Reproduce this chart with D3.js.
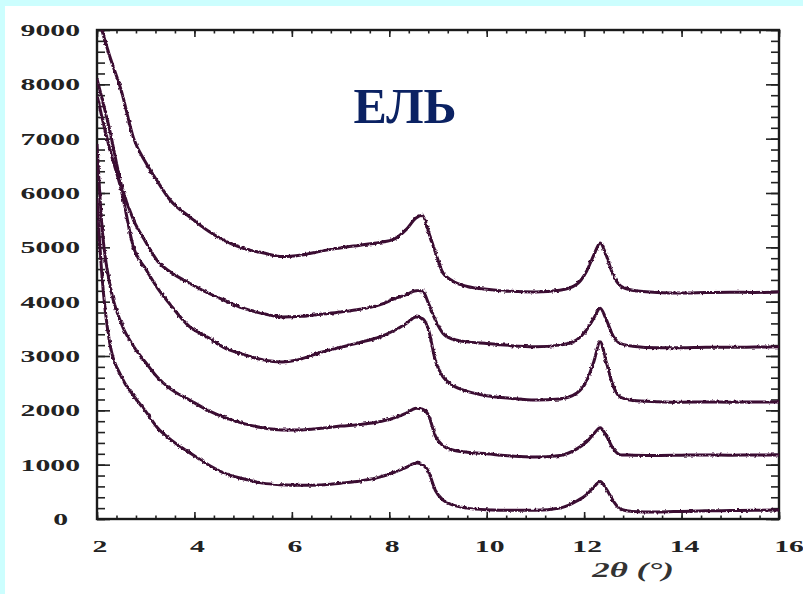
<!DOCTYPE html>
<html>
<head>
<meta charset="utf-8">
<script src="https://cdn.jsdelivr.net/npm/d3@7"></script>
<style>
  body { margin: 0; background: #fff; }
  svg { display: block; }
</style>
</head>
<body>
<div id="chart"></div>
<script>
// 2θ positions where the curves were read
var twoTheta = [2.0, 2.1, 2.25, 2.5, 2.75, 3.0, 3.25, 3.5, 3.9, 4.3, 4.6, 5.0, 5.4, 5.8, 6.2, 6.6, 7.0, 7.4, 7.8, 8.1,
  8.35, 8.55, 8.68, 8.8, 8.95, 9.1, 9.3, 9.6, 10.0, 10.5, 11.0, 11.5, 11.85, 12.05, 12.2, 12.33, 12.45, 12.6, 12.75,
  13.0, 13.5, 14.0, 14.5, 15.0, 15.5, 16.0];

// intensities, top curve first
var curveA = [9300, 9000, 8550, 7880, 7010, 6560, 6200, 5870, 5560, 5290, 5130, 4980, 4900, 4830, 4860, 4930, 4990, 5040, 5090, 5150,
  5330, 5540, 5590, 5300, 4900, 4530, 4380, 4280, 4230, 4190, 4180, 4210, 4320, 4560, 4860, 5080, 4860, 4480, 4290,
  4210, 4170, 4160, 4170, 4175, 4170, 4180];
var curveB = [8100, 7750, 7200, 6150, 5500, 5100, 4740, 4550, 4340, 4150, 4030, 3880, 3780, 3720, 3730, 3770, 3810, 3860, 3940, 4050,
  4130, 4200, 4200, 3980, 3650, 3420, 3310, 3260, 3230, 3190, 3170, 3200, 3300, 3480, 3700, 3880, 3680, 3360, 3230,
  3180, 3150, 3150, 3160, 3160, 3165, 3170];
var curveC = [7800, 7400, 6850, 6050, 5000, 4600, 4240, 3950, 3540, 3330, 3160, 3030, 2930, 2890, 2950, 3070, 3160, 3250, 3350, 3470,
  3600, 3720, 3690, 3500, 2900, 2620, 2460, 2350, 2270, 2220, 2190, 2210, 2320, 2540, 2900, 3260, 2900, 2440, 2240,
  2180, 2160, 2150, 2155, 2150, 2155, 2155];
var curveD = [6900, 5400, 4380, 3600, 3180, 2880, 2600, 2400, 2190, 1990, 1875, 1760, 1680, 1640, 1640, 1670, 1710, 1740, 1790, 1860,
  1950, 2040, 2020, 1920, 1520, 1350, 1270, 1230, 1200, 1160, 1140, 1170, 1290, 1420, 1570, 1680, 1540, 1290, 1180,
  1175, 1170, 1175, 1180, 1175, 1180, 1180];
var curveE = [5900, 4500, 3300, 2620, 2270, 1980, 1670, 1470, 1220, 990, 850, 740, 660, 630, 620, 625, 660, 700, 770, 860,
  950, 1030, 1000, 880, 520, 350, 260, 200, 170, 160, 160, 200, 330, 450, 590, 690, 560, 330, 180,
  140, 130, 140, 150, 155, 160, 166];

var xTicks = [2, 4, 6, 8, 10, 12, 14, 16];
var yTicks = [0, 1000, 2000, 3000, 4000, 5000, 6000, 7000, 8000, 9000];

var W = 803, H = 594;
var svg = d3.select("#chart").append("svg").attr("width", W).attr("height", H);

// slide background strips
svg.append("rect").attr("width", W).attr("height", H).attr("fill", "#fff");
svg.append("rect").attr("width", W).attr("height", 6).attr("fill", "#ccfefe");
svg.append("rect").attr("width", 5).attr("height", H).attr("fill", "#ccfefe");

var x = d3.scaleLinear().domain([2, 16]).range([97, 779]);
var y = d3.scaleLinear().domain([0, 9000]).range([519, 30]);

var defs = svg.append("defs");
defs.append("clipPath").attr("id", "plot")
  .append("rect")
  .attr("x", x(2)).attr("y", y(9000))
  .attr("width", x(16) - x(2)).attr("height", y(0) - y(9000));

// rough the traces up a bit like the scanned original
var rough = defs.append("filter").attr("id", "rough")
  .attr("x", "-5%").attr("y", "-5%").attr("width", "110%").attr("height", "110%");
rough.append("feTurbulence").attr("type", "fractalNoise")
  .attr("baseFrequency", 0.35).attr("numOctaves", 2).attr("seed", 3).attr("result", "noise");
rough.append("feDisplacementMap").attr("in", "SourceGraphic").attr("in2", "noise")
  .attr("scale", 3).attr("xChannelSelector", "R").attr("yChannelSelector", "G");

var minorX = d3.range(2, 16.001, 0.4);
var minorY = d3.range(0, 9000.1, 200);

function tickAxis(axis, pos, values, size) {
  svg.append("g")
    .attr("transform", pos)
    .call(axis.tickValues(values).tickSize(size).tickFormat(""))
    .call(g => g.select(".domain").remove())
    .call(g => g.selectAll(".tick line").attr("stroke", "#222").attr("stroke-width", 1.6));
}

tickAxis(d3.axisBottom(x), "translate(0," + y(0) + ")", minorX, -3.5);
tickAxis(d3.axisBottom(x), "translate(0," + y(0) + ")", xTicks, -7);
tickAxis(d3.axisTop(x), "translate(0," + y(9000) + ")", minorX, -3.5);
tickAxis(d3.axisTop(x), "translate(0," + y(9000) + ")", xTicks, -7);
tickAxis(d3.axisLeft(y), "translate(" + x(2) + ",0)", minorY, -8);
tickAxis(d3.axisLeft(y), "translate(" + x(2) + ",0)", yTicks, -13);
tickAxis(d3.axisRight(y), "translate(" + x(16) + ",0)", minorY, -8);
tickAxis(d3.axisRight(y), "translate(" + x(16) + ",0)", yTicks, -13);

svg.append("rect")
  .attr("x", x(2)).attr("y", y(9000))
  .attr("width", x(16) - x(2)).attr("height", y(0) - y(9000))
  .attr("fill", "none").attr("stroke", "#1a1a1a").attr("stroke-width", 2.4);

// tick labels (the original is stretched sideways)
var labelFont = "'Liberation Serif', 'Times New Roman', serif";
svg.append("g").selectAll("text").data(yTicks).enter().append("text")
  .attr("transform", d => "translate(" + (d === 0 ? 68 : 80) + "," + (y(d) + 6) + ") scale(1.75,1)")
  .attr("text-anchor", "end")
  .attr("font-family", labelFont).attr("font-weight", "bold").attr("font-size", 17)
  .attr("fill", "#222")
  .text(d => d);

svg.append("g").selectAll("text").data(xTicks).enter().append("text")
  .attr("transform", d => "translate(" + (x(d) + (d === 16 ? 10 : 3)) + ",552) scale(1.75,1)")
  .attr("text-anchor", "middle")
  .attr("font-family", labelFont).attr("font-weight", "bold").attr("font-size", 17)
  .attr("fill", "#222")
  .text(d => d);

svg.append("text")
  .attr("transform", "translate(633,577) scale(1.75,1)")
  .attr("text-anchor", "middle")
  .attr("font-family", labelFont).attr("font-style", "italic").attr("font-weight", "bold")
  .attr("font-size", 20).attr("fill", "#333")
  .text("2θ (°)");

// traces
var line = d3.line()
  .x((d, i) => x(twoTheta[i]))
  .y(d => y(d))
  .curve(d3.curveMonotoneX);

var plot = svg.append("g").attr("clip-path", "url(#plot)");
[curveA, curveB, curveC, curveD, curveE].forEach(function(c) {
  plot.append("path")
    .datum(c)
    .attr("d", line)
    .attr("fill", "none")
    .attr("stroke", "#3a0d33")
    .attr("stroke-width", 3)
    .attr("stroke-linejoin", "round")
    .attr("filter", "url(#rough)");
});

svg.append("text")
  .attr("x", 405).attr("y", 123)
  .attr("text-anchor", "middle")
  .attr("font-family", labelFont).attr("font-weight", "bold")
  .attr("font-size", 50).attr("fill", "#0b2263")
  .text("ЕЛЬ");
</script>
</body>
</html>
